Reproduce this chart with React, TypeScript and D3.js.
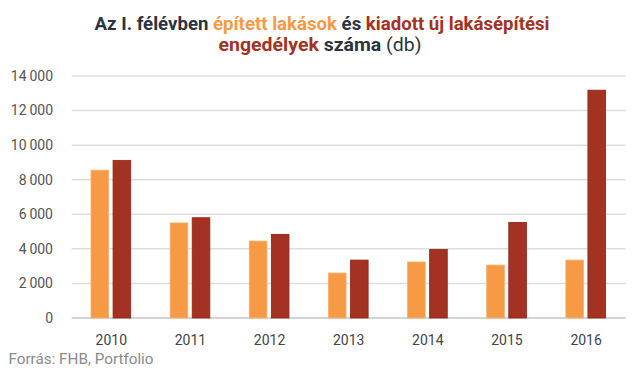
import React from "react";
import * as d3 from "d3";

const years = ["2010", "2011", "2012", "2013", "2014", "2015", "2016"];
const built = [8550, 5500, 4450, 2600, 3240, 3060, 3350];
const permits = [9120, 5800, 4840, 3350, 3970, 5530, 13180];
const yTicks = [0, 2000, 4000, 6000, 8000, 10000, 12000, 14000];
const seriesKeys = ["built", "permits"];

const ORANGE = "#F79A45";
const RED = "#A33222";
const DARK = "#2d3240";

const W = 640;
const H = 374;
const left = 71.7;
const right = 625.7;
const top = 76;
const bottom = 318;

const fmt = (v: number) => d3.format(",")(v).replace(/,/g, "\u2009");

const App = () => {
  const x0 = d3.scaleBand().domain(years).range([left, right]).padding(0);
  const x1 = d3
    .scaleBand()
    .domain(seriesKeys)
    .range([19.3, 59])
    .paddingInner(0.2);
  const y = d3.scaleLinear().domain([0, 14000]).range([bottom, top]);

  const rows = years.map((yr, i) => ({ yr, built: built[i], permits: permits[i] }));
  const font = "Roboto, 'DejaVu Sans', sans-serif";

  return (
    <div style={{ position: "absolute", left: 0, top: 0 }}>
      <svg width={W} height={H} style={{ display: "block", background: "#fff" }}>
        <g fontFamily={font} fontWeight="bold" fontSize="18.5" textAnchor="middle">
          <text x={322} y={29.5} textLength={455} lengthAdjust="spacingAndGlyphs" fill={DARK}>
            Az I. félévben <tspan fill={ORANGE}>épített lakások</tspan> és{" "}
            <tspan fill={RED}>kiadott új lakásépítési</tspan>
          </text>
          <text x={320} y={51} textLength={203} lengthAdjust="spacingAndGlyphs" fill={DARK}>
            <tspan fill={RED}>engedélyek</tspan> száma <tspan fontWeight="normal">(db)</tspan>
          </text>
        </g>

        {yTicks.map(t => (
          <g key={t}>
            <line
              x1={left}
              x2={right}
              y1={y(t)}
              y2={y(t)}
              stroke={t === 0 ? "#d4d4d4" : "#dedede"}
              strokeWidth={t === 0 ? 2 : 1.5}
            />
            <text
              x={53}
              y={y(t)}
              dy="0.35em"
              textAnchor="end"
              fontFamily={font}
              fontSize="14"
              fill="#555"
            >
              {fmt(t)}
            </text>
          </g>
        ))}

        {rows.map(r => (
          <g key={r.yr} transform={`translate(${x0(r.yr)},0)`}>
            {seriesKeys.map(k => {
              const v = (r as any)[k] as number;
              return (
                <rect
                  key={k}
                  x={x1(k)}
                  y={y(v)}
                  width={x1.bandwidth()}
                  height={y(0) - y(v)}
                  fill={k === "built" ? ORANGE : RED}
                  stroke={k === "built" ? "#f8ae6b" : "#8f2415"}
                  strokeWidth={0.8}
                />
              );
            })}
            <text
              x={x0.bandwidth() / 2}
              y={340}
              dy="0.35em"
              textAnchor="middle"
              fontFamily={font}
              fontSize="14"
              fill="#444"
            >
              {r.yr}
            </text>
          </g>
        ))}

        <text
          x={8.5}
          y={364}
          fontFamily={font}
          fontSize="15"
          textLength={145}
          lengthAdjust="spacingAndGlyphs"
          fill="#8a8a8a"
        >
          Forrás: FHB, Portfolio
        </text>
      </svg>
    </div>
  );
};

export default App;
